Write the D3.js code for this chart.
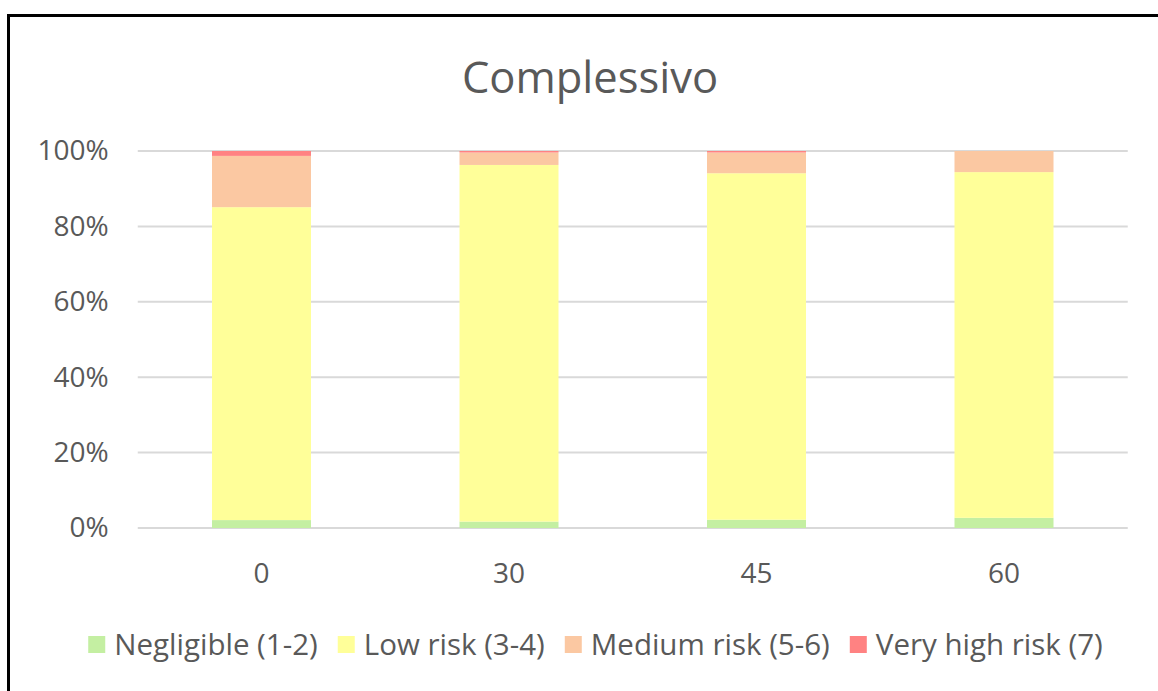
<!DOCTYPE html>
<html>
<head>
<meta charset="utf-8">
<script src="https://cdn.jsdelivr.net/npm/d3@7"></script>
<style>
  html, body { margin: 0; padding: 0; background: #fff; }
  svg { display: block; }
</style>
</head>
<body>
<svg id="chart" width="1158" height="691"></svg>
<script>
// Categories (x axis) and stacked series shares, in percent
const categories = ["0", "30", "45", "60"];
const seriesNames = ["Negligible (1-2)", "Low risk (3-4)", "Medium risk (5-6)", "Very high risk (7)"];
const negligible = [2.1, 1.7, 2.2, 2.7];
const lowRisk = [83.0, 94.6, 91.9, 91.7];
const mediumRisk = [13.6, 3.3, 5.5, 5.6];
const veryHighRisk = [1.3, 0.4, 0.4, 0.0];
const yTicks = [0, 20, 40, 60, 80, 100];
const colors = ["#c4efa2", "#ffff99", "#fbc8a2", "#ff8282"];

const seriesValues = [negligible, lowRisk, mediumRisk, veryHighRisk];
const rows = categories.map((c, i) => {
  const r = { cat: c };
  seriesNames.forEach((s, k) => { r[s] = seriesValues[k][i]; });
  return r;
});

const svg = d3.select("#chart");
const W = 1158, H = 691;
const font = "'Open Sans', sans-serif";
const textColor = "#595959";

// Outer frame
svg.append("rect")
  .attr("x", 8.5).attr("y", 15.5)
  .attr("width", W + 20).attr("height", H + 20)
  .attr("fill", "#fff").attr("stroke", "#000").attr("stroke-width", 3);

const plot = { left: 137.75, right: 1127.75, top: 151, bottom: 528 };

const x = d3.scaleBand()
  .domain(categories)
  .range([plot.left, plot.right])
  .paddingInner(0.6)
  .paddingOuter(0.3);

const y = d3.scaleLinear()
  .domain([0, 100])
  .range([plot.bottom, plot.top]);

// Title
svg.append("text")
  .attr("x", 590).attr("y", 93)
  .attr("text-anchor", "middle")
  .attr("font-family", font).attr("font-size", 43.5)
  .attr("fill", textColor)
  .text("Complessivo");

// Gridlines
svg.append("g")
  .selectAll("line")
  .data(yTicks)
  .join("line")
  .attr("x1", plot.left).attr("x2", plot.right)
  .attr("y1", d => y(d)).attr("y2", d => y(d))
  .attr("stroke", "#d9d9d9").attr("stroke-width", 2);

// Y axis labels
const yAxis = d3.axisLeft(y).tickValues(yTicks).tickFormat(d => d + "%").tickSize(0).tickPadding(29);
const gy = svg.append("g").attr("transform", `translate(${plot.left},0)`).call(yAxis);
gy.select(".domain").remove();
gy.selectAll("text")
  .attr("font-family", font).attr("font-size", 28)
  .attr("fill", textColor);

// Stacked bars
const stack = d3.stack().keys(seriesNames);
const layers = stack(rows);
svg.append("g")
  .selectAll("g")
  .data(layers)
  .join("g")
  .attr("fill", (d, i) => colors[i])
  .selectAll("rect")
  .data(d => d)
  .join("rect")
  .attr("x", d => x(d.data.cat))
  .attr("width", x.bandwidth())
  .attr("y", d => y(d[1]))
  .attr("height", d => y(d[0]) - y(d[1]));

// X axis labels
const xAxis = d3.axisBottom(x).tickSize(0).tickPadding(35);
const gx = svg.append("g").attr("transform", `translate(0,${plot.bottom})`).call(xAxis);
gx.select(".domain").remove();
gx.selectAll("text")
  .attr("font-family", font).attr("font-size", 28)
  .attr("fill", textColor);

// Legend
const legend = svg.append("g");
const legendY = 645;
const items = legend.selectAll("g").data(seriesNames).join("g");
items.append("rect")
  .attr("width", 17).attr("height", 17)
  .attr("y", legendY - 9)
  .attr("fill", (d, i) => colors[i]);
items.append("text")
  .attr("x", 26).attr("y", legendY + 10)
  .attr("font-family", font).attr("font-size", 29.5)
  .attr("fill", textColor)
  .text(d => d);
let cx = 0;
const widths = [];
items.each(function () {
  const w = this.querySelector("text").getComputedTextLength() + 26;
  widths.push(w);
});
const gap = 20;
const total = d3.sum(widths) + gap * (widths.length - 1);
cx = (89 + 1102) / 2 - total / 2;
items.attr("transform", (d, i) => {
  const t = `translate(${cx},0)`;
  cx += widths[i] + gap;
  return t;
});
</script>
</body>
</html>
